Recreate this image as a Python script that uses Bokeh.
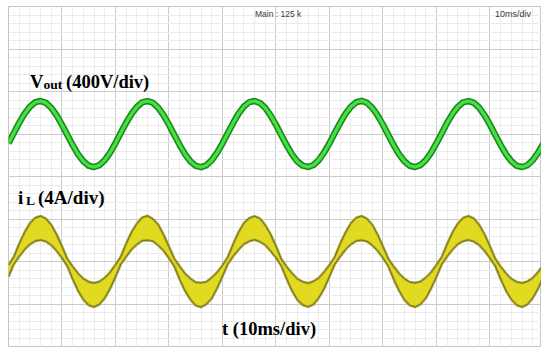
from bokeh.plotting import figure
from bokeh.models import Range1d, FixedTicker, Label, ColumnDataSource
from bokeh.embed import file_html
from bokeh.resources import INLINE

# Sample instants of the acquisition, in ms (10 ms/div, 10 divisions)
t_ms = list(range(0, 101))

# Output voltage trace, volts (channel 1, 400 V/div, offset +1 div)
vout_v = [
    -87, 10, 105, 191, 257, 299, 311, 293, 246, 175, 87, -10, -105, -191, -257, -299, -311, -293, -246, -175,
    -86, 12, 106, 190, 255, 298, 310, 294, 247, 176, 88, -9, -104, -190, -256, -300, -312, -294, -247, -176,
    -88, 9, 104, 192, 258, 300, 311, 292, 245, 174, 86, -11, -106, -192, -258, -298, -310, -292, -245, -174,
    -87, 11, 105, 191, 256, 299, 312, 294, 246, 175, 87, -10, -105, -191, -257, -299, -311, -293, -246, -175,
    -86, 10, 106, 190, 257, 298, 310, 293, 247, 176, 88, -10, -104, -190, -256, -300, -311, -294, -247, -176,
    -87,
]

# Inductor current ripple envelope, amps (channel 2, 4 A/div, offset -2 div)
il_hi = [
    -0.33, 0.45, 1.67, 2.75, 3.60, 4.12, 4.28, 4.04, 3.45, 2.55, 1.43, 0.25, -0.47, -1.11, -1.62, -1.92, -2.02, -1.88, -1.53, -0.99,
    -0.30, 0.47, 1.70, 2.78, 3.58, 4.15, 4.30, 4.02, 3.47, 2.52, 1.40, 0.27, -0.45, -1.13, -1.60, -1.95, -2.00, -1.90, -1.50, -1.01,
    -0.35, 0.44, 1.65, 2.77, 3.62, 4.10, 4.27, 4.06, 3.43, 2.57, 1.45, 0.24, -0.49, -1.10, -1.64, -1.90, -2.04, -1.86, -1.55, -0.97,
    -0.32, 0.46, 1.68, 2.74, 3.61, 4.13, 4.29, 4.03, 3.46, 2.54, 1.42, 0.26, -0.46, -1.12, -1.61, -1.93, -2.01, -1.89, -1.52, -1.00,
    -0.31, 0.45, 1.66, 2.76, 3.59, 4.11, 4.28, 4.05, 3.44, 2.56, 1.44, 0.25, -0.48, -1.11, -1.63, -1.91, -2.03, -1.87, -1.54, -0.98,
    -0.33,
]
il_lo = [
    -1.43, -0.25, 0.47, 1.11, 1.62, 1.92, 2.02, 1.88, 1.53, 0.99, 0.33, -0.45, -1.67, -2.75, -3.60, -4.12, -4.28, -4.04, -3.45, -2.55,
    -1.45, -0.27, 0.45, 1.13, 1.60, 1.95, 2.00, 1.90, 1.50, 1.01, 0.30, -0.47, -1.70, -2.78, -3.58, -4.15, -4.30, -4.02, -3.47, -2.52,
    -1.40, -0.24, 0.49, 1.10, 1.64, 1.90, 2.04, 1.86, 1.55, 0.97, 0.35, -0.44, -1.65, -2.77, -3.62, -4.10, -4.27, -4.06, -3.43, -2.57,
    -1.42, -0.26, 0.46, 1.12, 1.61, 1.93, 2.01, 1.89, 1.52, 1.00, 0.32, -0.46, -1.68, -2.74, -3.61, -4.13, -4.29, -4.03, -3.46, -2.54,
    -1.44, -0.25, 0.48, 1.11, 1.63, 1.91, 2.03, 1.87, 1.54, 0.98, 0.31, -0.45, -1.66, -2.76, -3.59, -4.11, -4.28, -4.05, -3.44, -2.56,
    -1.43,
]

# Screen graticule: 10 x 8 divisions, 5 minor steps each
x_major = [0, 10, 20, 30, 40, 50, 60, 70, 80, 90, 100]
x_minor = list(range(0, 101, 2))
v_major = [-2000, -1600, -1200, -800, -400, 0, 400, 800, 1200]
v_minor = list(range(-2000, 1201, 80))

# Frame geometry (pixels) of the scope screen inside the page
FL, FT, FW, FH = 8.5, 6, 533, 340
X_END = 99.63
V_LO, V_HI = -2000, 1200

src = ColumnDataSource(dict(t=t_ms, v=vout_v, hi=il_hi, lo=il_lo))

p = figure(
    width=541, height=349,
    output_backend="svg", toolbar_location=None,
    x_range=Range1d(0, X_END), y_range=Range1d(V_LO, V_HI),
    min_border_left=8, min_border_right=0, min_border_top=6, min_border_bottom=3,
    background_fill_color="white", border_fill_color="white",
)
p.extra_y_ranges = {"amps": Range1d(-8, 24)}
p.xaxis.visible = False
p.yaxis.visible = False
p.outline_line_color = "#c4c4c4"
p.outline_line_width = 1

p.xgrid.ticker = FixedTicker(ticks=x_major, minor_ticks=x_minor)
p.ygrid.ticker = FixedTicker(ticks=v_major, minor_ticks=v_minor)
for g in (p.xgrid, p.ygrid):
    g.grid_line_color = "#cbcbcb"
    g.grid_line_width = 1
    g.minor_grid_line_color = "#ebebeb"
    g.minor_grid_line_width = 1

# Channel 2: inductor current drawn as a filled ripple band with fuzzy edges
p.varea(x="t", y1="lo", y2="hi", source=src, y_range_name="amps",
        fill_color="#e2da20")
for col in ("hi", "lo"):
    p.line(x="t", y=col, source=src, y_range_name="amps",
           line_color="#9a9624", line_width=2.6, line_alpha=0.75,
           line_join="round")
    p.line(x="t", y=col, source=src, y_range_name="amps",
           line_color="#6f6c16", line_width=0.9, line_join="round")

# Channel 1: output voltage
p.line(x="t", y="v", source=src, line_color="#1e8a1e", line_width=6.5,
       line_join="round")
p.line(x="t", y="v", source=src, line_color="#45e045", line_width=3.2,
       line_join="round")


def px_to_data(px, py):
    x = (px - FL) / FW * X_END
    y = V_LO + (FT + FH - py) / FH * (V_HI - V_LO)
    return x, y


serif = "Liberation Serif"


def lab(px, py, text, size, color="black", font=serif, style="bold"):
    x, y = px_to_data(px, py)
    p.add_layout(Label(
        x=x, y=y, text=text,
        text_font=font, text_font_size=f"{size}px", text_font_style=style,
        text_color=color, text_baseline="alphabetic", text_align="left",
    ))


lab(30, 81, "V", 18.5)
lab(43.5, 83.5, "out", 13.5)
lab(66, 81, "(400V/div)", 18.5)

lab(18, 197, "i", 19)
lab(26, 200, "L", 13.5)
lab(38, 197, "(4A/div)", 19)

lab(222, 328, "t (10ms/div)", 18.5)

lab(255, 13, "Main : 125 k", 8.5, color="#3a3a3a", font="Liberation Sans", style="normal")
lab(495, 13, "10ms/div", 9, color="#3a3a3a", font="Liberation Sans", style="normal")

open("out.html", "w").write(file_html(p, INLINE))
